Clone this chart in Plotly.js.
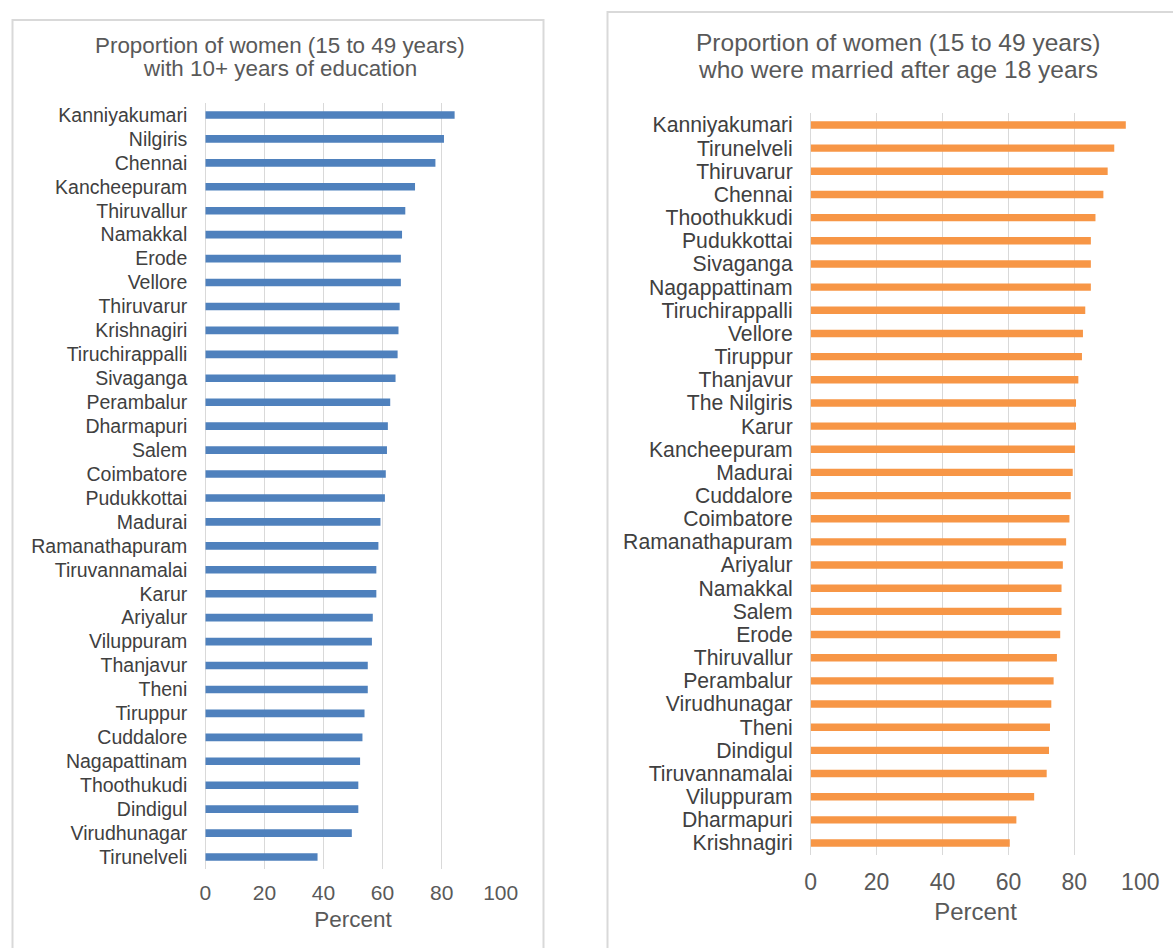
<!DOCTYPE html>
<html>
<head>
<meta charset="utf-8">
<script src="https://cdn.plot.ly/plotly-3.0.1.min.js"></script>
<style>
  html, body { margin: 0; padding: 0; background: #ffffff; }
  #chart { width: 1173px; height: 948px; }
</style>
</head>
<body>
<div id="chart"></div>
<script>
// Women 15-49 with 10+ years of schooling, by district (percent)
const eduDistricts = ["Kanniyakumari","Nilgiris","Chennai","Kancheepuram","Thiruvallur","Namakkal","Erode","Vellore","Thiruvarur","Krishnagiri","Tiruchirappalli","Sivaganga","Perambalur","Dharmapuri","Salem","Coimbatore","Pudukkottai","Madurai","Ramanathapuram","Tiruvannamalai","Karur","Ariyalur","Viluppuram","Thanjavur","Theni","Tiruppur","Cuddalore","Nagapattinam","Thoothukudi","Dindigul","Virudhunagar","Tirunelveli"];
const eduPercent = [84.4,80.8,77.9,71.0,67.7,66.6,66.2,66.2,65.8,65.4,65.1,64.4,62.6,61.8,61.5,61.1,60.8,59.3,58.6,57.9,57.9,56.7,56.4,55.0,55.0,53.9,53.2,52.4,51.8,51.8,49.6,38.0];

// Women 15-49 married after age 18, by district (percent)
const marriageDistricts = ["Kanniyakumari","Tirunelveli","Thiruvarur","Chennai","Thoothukkudi","Pudukkottai","Sivaganga","Nagappattinam","Tiruchirappalli","Vellore","Tiruppur","Thanjavur","The Nilgiris","Karur","Kancheepuram","Madurai","Cuddalore","Coimbatore","Ramanathapuram","Ariyalur","Namakkal","Salem","Erode","Thiruvallur","Perambalur","Virudhunagar","Theni","Dindigul","Tiruvannamalai","Viluppuram","Dharmapuri","Krishnagiri"];
const marriagePercent = [95.6,92.1,90.1,88.8,86.4,85.0,85.0,85.0,83.3,82.6,82.3,81.2,80.5,80.5,80.2,79.5,78.9,78.5,77.5,76.5,76.1,76.1,75.7,74.7,73.7,73.0,72.6,72.3,71.6,67.8,62.4,60.4];

const percentTicks = [0, 20, 40, 60, 80, 100];
const leftTitle = ["Proportion of women (15 to 49 years)", "with 10+ years of education"];
const rightTitle = ["Proportion of women (15 to 49 years)", "who were married after age 18 years"];

const W = 1173, H = 948;
const fx = px => px / W;          // pixel -> paper x
const fy = py => 1 - py / H;      // pixel -> paper y

const FONT = "Liberation Sans, Arial, sans-serif";
const GRID = "#d9d9d9";

const traces = [
  {
    type: "bar", orientation: "h",
    x: eduPercent, y: eduDistricts,
    xaxis: "x", yaxis: "y",
    marker: { color: "#4f81bd", line: { width: 0 } },
    hoverinfo: "x+y"
  },
  {
    type: "bar", orientation: "h",
    x: marriagePercent, y: marriageDistricts,
    xaxis: "x2", yaxis: "y2",
    marker: { color: "#f79646", line: { width: 0 } },
    hoverinfo: "x+y"
  }
];

function xAxis(domain, tickSize, titleSize, tickStandoff, titleStandoff, anchor) {
  return {
    domain: domain, anchor: anchor,
    range: [0, 100], fixedrange: true,
    tickmode: "array", tickvals: percentTicks, ticktext: percentTicks.map(String),
    showgrid: true, gridcolor: GRID, gridwidth: 1.5,
    zeroline: true, zerolinecolor: GRID, zerolinewidth: 1.5,
    showline: false, ticks: "",
    ticklabelstandoff: tickStandoff,
    tickfont: { family: FONT, size: tickSize, color: "#595959" },
    title: { text: "Percent", standoff: titleStandoff,
             font: { family: FONT, size: titleSize, color: "#595959" } },
    automargin: false
  };
}

// every district gets its own label
function yAxis(domain, categories, labelSize, anchor) {
  return {
    domain: domain, anchor: anchor,
    type: "category", autorange: "reversed", fixedrange: true,
    tickmode: "array", tickvals: categories, ticktext: categories,
    showgrid: false, zeroline: false, showline: false, ticks: "",
    ticklabelstandoff: 17,
    tickfont: { family: FONT, size: labelSize, color: "#404040" },
    automargin: false
  };
}

function titleLine(text, x, y, size) {
  return {
    xref: "paper", yref: "paper", x: fx(x), y: fy(y),
    xanchor: "center", yanchor: "middle",
    text: text, showarrow: false,
    font: { family: FONT, size: size, color: "#595959" }
  };
}

const layout = {
  width: W, height: H,
  margin: { l: 0, r: 0, t: 0, b: 0, pad: 0 },
  paper_bgcolor: "#ffffff", plot_bgcolor: "rgba(0,0,0,0)",
  showlegend: false,
  bargap: 0.68,
  xaxis:  xAxis([fx(205.3), fx(500.7)], 21, 22.5, 9, 8, "y"),
  yaxis:  yAxis([fy(869), fy(103)], eduDistricts, 19.5, "x"),
  xaxis2: xAxis([fx(810.7), fx(1140.3)], 23, 24, 11, 9, "y2"),
  yaxis2: yAxis([fy(854.6), fy(113.4)], marriageDistricts, 21.2, "x2"),
  annotations: [
    titleLine(leftTitle[0], 279.5, 46, 22.4),
    titleLine(leftTitle[1], 279.5, 68, 22.4),
    titleLine(rightTitle[0], 898, 43, 24.5),
    titleLine(rightTitle[1], 898, 70, 24.5)
  ],
  shapes: [
    { type: "rect", xref: "paper", yref: "paper",
      x0: fx(12.5), x1: fx(543.5), y0: fy(20), y1: fy(970),
      line: { color: GRID, width: 2 }, fillcolor: "rgba(0,0,0,0)", layer: "below" },
    { type: "rect", xref: "paper", yref: "paper",
      x0: fx(607.5), x1: fx(1190), y0: fy(12), y1: fy(970),
      line: { color: GRID, width: 2 }, fillcolor: "rgba(0,0,0,0)", layer: "below" }
  ]
};

Plotly.newPlot("chart", traces, layout, { displayModeBar: false, staticPlot: true });
</script>
</body>
</html>
